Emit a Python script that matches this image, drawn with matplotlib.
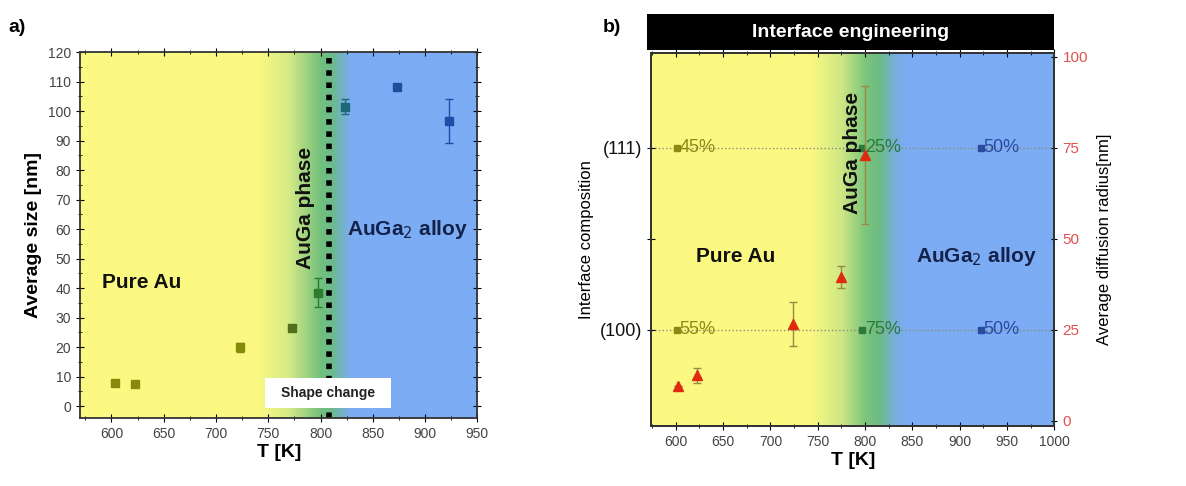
import numpy as np
import matplotlib
matplotlib.use('Agg')
import matplotlib.pyplot as plt
from matplotlib.colors import to_rgb
from matplotlib.patches import Rectangle

plt.rcParams['font.family'] = ['Liberation Sans', 'DejaVu Sans']

# panel a: average particle size
T_a = [603, 623, 723, 773, 798, 823, 873, 923]
size_a = [8, 7.5, 20, 26.5, 38.5, 101.5, 108, 96.5]
err_a = [0.8, 0.8, 1.5, 1.0, 5.0, 2.5, 1.0, 7.5]
col_a = ['#858a0a', '#858a0a', '#858a0a', '#4f6e1e', '#2e7d2e', '#1c6878', '#1d4f9c', '#1d4fa8']

# panel b: diffusion radius
T_b = [602, 622, 724, 775, 800]
rad_b = [9.5, 12.5, 26.5, 39.5, 73]
err_b = [0, 2, 6, 3, 19]

# panel b: interface composition
T_c = [601, 797, 922]
pct_111 = ['45%', '25%', '50%']
pct_100 = ['55%', '75%', '50%']
col_c = ['#8a8a15', '#2a7a3a', '#2a4aa0']
lvl_111, lvl_100 = 75, 25

# background colour stops (temperature, colour)
stops_a = [(740, '#fbf982'), (770, '#d4ea86'), (800, '#72c07c'), (812, '#6cb990'),
           (828, '#7cacf0'), (840, '#7cacf4')]
stops_b = [(742, '#fbf982'), (775, '#cfe784'), (800, '#7cc57c'), (815, '#6dbb84'),
           (832, '#78aee0'), (845, '#7cacf4')]


def background(ax, x0, x1, y0, y1, stops):
    xs = np.linspace(x0, x1, 800)
    ks = [s[0] for s in stops]
    rgb = np.array([to_rgb(s[1]) for s in stops])
    img = np.stack([np.interp(xs, ks, rgb[:, i]) for i in range(3)], axis=-1)
    ax.imshow(img[None, :, :], extent=[x0, x1, y0, y1], aspect='auto', zorder=0,
              interpolation='bilinear')


fig = plt.figure(figsize=(11.86, 4.86), dpi=100)

# ---------------- a ----------------
ax = fig.add_axes([0.0675, 0.140, 0.335, 0.753])
background(ax, 570, 950, -4, 120, stops_a)
for t, s, e, c in zip(T_a, size_a, err_a, col_a):
    ax.errorbar(t, s, yerr=e, fmt='s', color=c, ms=6, capsize=3, elinewidth=1, ecolor=c, zorder=3)
ax.axvline(808, color='black', ls=(0, (1, 1.2)), lw=4, zorder=2)
ax.add_patch(Rectangle((747, -0.7), 120, 10.2, facecolor='white', edgecolor='none', zorder=4))
ax.text(807, 4.4, 'Shape change', ha='center', va='center', fontsize=10, fontweight='bold', color='#222222', zorder=5)
ax.text(629, 42, 'Pure Au', ha='center', va='center', fontsize=15, fontweight='bold', color='#111111')
ax.text(786, 67, 'AuGa phase', ha='center', va='center', rotation=90, fontsize=15, fontweight='bold', color='#111111')
ax.text(883, 60, 'AuGa$_2$ alloy', ha='center', va='center', fontsize=15, fontweight='bold', color='#14224a')
ax.set_xlim(570, 950)
ax.set_ylim(-4, 120)
ax.set_xticks(range(600, 951, 50))
ax.set_xticks(range(575, 951, 25), minor=True)
ax.set_yticks(range(0, 121, 10))
ax.set_yticks(range(0, 121, 5), minor=True)
ax.tick_params(which='both', direction='inout', top=True, right=True, labelsize=10, labelcolor='#444444')
ax.tick_params(which='major', length=6)
ax.tick_params(which='minor', length=3)
ax.set_xlabel('T [K]', fontsize=14, fontweight='bold', labelpad=2)
ax.set_ylabel('Average size [nm]', fontsize=14, fontweight='bold', labelpad=4)
for sp in ax.spines.values():
    sp.set_color('#333333')
    sp.set_linewidth(1.3)
fig.text(0.007, 0.935, 'a)', fontsize=14, fontweight='bold')

# ---------------- b ----------------
bx = fig.add_axes([0.549, 0.123, 0.340, 0.768])
background(bx, 574, 1000, -1.5, 101, stops_b)
bx.axhline(lvl_111, color='#8a8f7a', ls=':', lw=1, zorder=1)
bx.axhline(lvl_100, color='#8a8f7a', ls=':', lw=1, zorder=1)
for t, c, p1, p0 in zip(T_c, col_c, pct_111, pct_100):
    bx.plot([t, t], [lvl_111, lvl_100], 's', color=c, ms=5, zorder=3)
    bx.text(t + 3, lvl_111, p1, va='center', ha='left', fontsize=13, color=c, zorder=3)
    bx.text(t + 3, lvl_100, p0, va='center', ha='left', fontsize=13, color=c, zorder=3)
bx.errorbar(T_b, rad_b, yerr=err_b, fmt='^', color='#e02a10', ms=7, capsize=3,
            ecolor='#9a8a45', elinewidth=1, zorder=4)
bx.text(663, 45, 'Pure Au', ha='center', va='center', fontsize=15, fontweight='bold', color='#111111')
bx.text(787, 73.5, 'AuGa phase', ha='center', va='center', rotation=90, fontsize=15, fontweight='bold', color='#111111')
bx.text(918, 45, 'AuGa$_2$ alloy', ha='center', va='center', fontsize=15, fontweight='bold', color='#14224a')
bx.set_xlim(574, 1000)
bx.set_ylim(-1.5, 101)
bx.set_xticks(range(600, 1001, 50))
bx.set_xticks(range(575, 1001, 25), minor=True)
bx.set_yticks([25, 50, 75])
bx.set_yticklabels(['(100)', '', '(111)'], fontsize=13, color='#111111')
bx.tick_params(which='both', direction='inout', top=True, labelsize=10)
bx.tick_params(axis='x', labelcolor='#444444')
bx.tick_params(axis='y', labelsize=13)
bx.tick_params(which='major', length=6)
bx.tick_params(which='minor', length=3)
bx.set_xlabel('T [K]', fontsize=14, fontweight='bold', labelpad=2)
bx.set_ylabel('Interface composition', fontsize=12, labelpad=4)
rx = bx.twinx()
rx.set_ylim(-1.5, 101)
rx.set_yticks([0, 25, 50, 75, 100])
rx.tick_params(axis='y', labelcolor='#e05050', labelsize=11, length=5, direction='inout')
rx.set_ylabel('Average diffusion radius[nm]', fontsize=12, labelpad=6)
for a in (bx, rx):
    for sp in a.spines.values():
        sp.set_color('#333333')
        sp.set_linewidth(1.3)

# black header bar
fig.patches.append(Rectangle((0.5455, 0.897), 0.3435, 0.074, transform=fig.transFigure,
                             facecolor='black', edgecolor='none'))
fig.text(0.717, 0.934, 'Interface engineering', ha='center', va='center', fontsize=14,
         fontweight='bold', color='white')
fig.text(0.508, 0.935, 'b)', fontsize=14, fontweight='bold')

fig.savefig('out.png', dpi=100)
